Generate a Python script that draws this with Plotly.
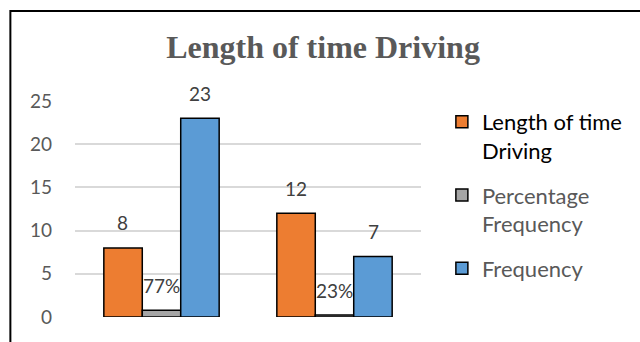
import plotly.graph_objects as go

# Two driving-duration groups; category names sit below the visible frame
categories = ["Group A", "Group B"]
series_names = ["Length of time Driving", "Percentage Frequency", "Frequency"]
length_of_time = [8, 12]
percentage_freq = [0.77, 0.23]
frequency = [23, 7]
y_ticks = [0, 5, 10, 15, 20, 25]

colors = ["#ED7D31", "#A5A5A5", "#5B9BD5"]
legend_labels = [
    "<span style='color:#000000'>Length of time<br>Driving</span>",
    "Percentage<br>Frequency",
    "Frequency",
]
series_values = [length_of_time, percentage_freq, frequency]
label_formats = ["{:.0f}", "{:.0%}", "{:.0f}"]

W, H = 640, 342
M_L, M_R, M_T, M_B = 75, 217, 101, 25
plot_w = W - M_L - M_R
plot_h = H - M_T - M_B
bargap = 1 / 3
bar_px = plot_w / len(categories) * (1 - bargap) / 3

fig = go.Figure()
for i, (name, vals) in enumerate(zip(series_names, series_values)):
    fig.add_trace(go.Bar(
        x=categories, y=vals, name=legend_labels[i],
        legendgroup=name,
        marker=dict(color=colors[i], line=dict(color="#000000", width=1.5)),
        hoverinfo="skip",
    ))
    # value labels floating above each bar
    for j, v in enumerate(vals):
        fig.add_annotation(
            x=j, y=v, xref="x", yref="y",
            text=label_formats[i].format(v),
            showarrow=False, xshift=(i - 1) * bar_px, yshift=25,
            font=dict(family="Lato", size=19, color="#404040"),
        )

# outer chart frame (extends past the right and bottom edges)
fig.add_shape(
    type="rect", xref="paper", yref="paper",
    x0=(10 - M_L) / plot_w, x1=(W + 20 - M_L) / plot_w,
    y0=-(40 + M_B) / plot_h, y1=(H - M_B - 11) / plot_h,
    line=dict(color="#000000", width=2), fillcolor="rgba(0,0,0,0)",
)

fig.update_layout(
    width=W, height=H,
    margin=dict(l=M_L, r=M_R, t=M_T, b=M_B),
    paper_bgcolor="white", plot_bgcolor="white",
    barmode="group", bargap=bargap, bargroupgap=0,
    title=dict(
        text="<b>Length of time Driving</b>",
        x=323 / W, xanchor="center", y=1 - 47 / H, yanchor="middle",
        font=dict(family="Liberation Serif", size=32, color="#595959"),
    ),
    xaxis=dict(range=[-0.5, 1.5], showticklabels=False, showgrid=False,
               zeroline=False, showline=False),
    yaxis=dict(range=[0, 25], tickvals=y_ticks, showgrid=True,
               gridcolor="#D9D9D9", gridwidth=1.5, zeroline=False,
               showline=False, ticklabelstandoff=22,
               tickfont=dict(family="Lato", size=19, color="#595959")),
    legend=dict(
        x=(444 - M_L) / plot_w, xanchor="left",
        y=(H - M_B - 101) / plot_h, yanchor="top",
        valign="top", tracegroupgap=13,
        font=dict(family="Lato", size=22, color="#595959"),
        bgcolor="rgba(0,0,0,0)",
    ),
    showlegend=True,
)

fig.write_html("out.html")
